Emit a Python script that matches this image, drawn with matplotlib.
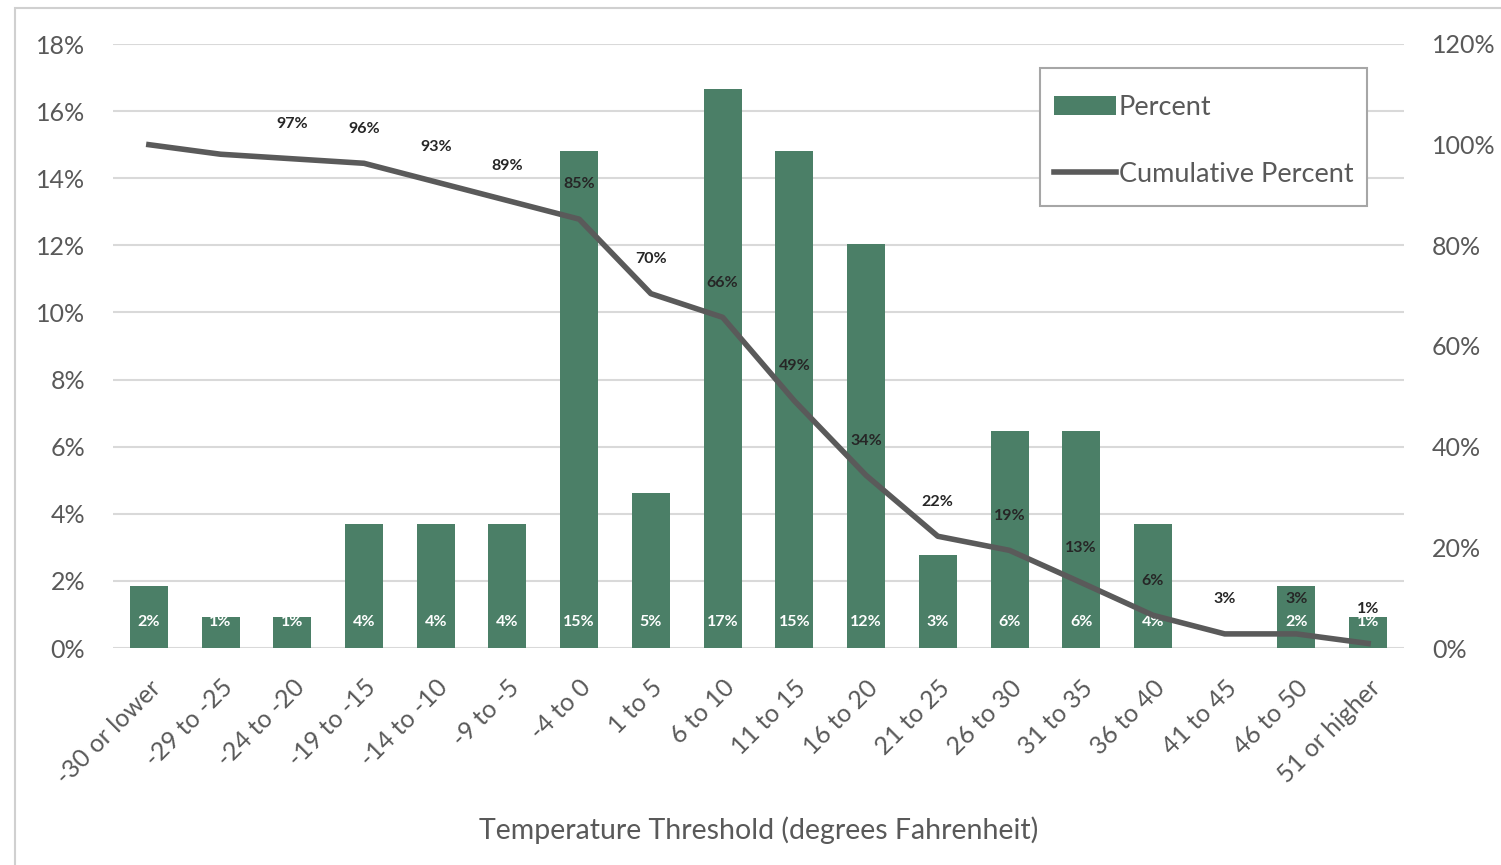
import matplotlib
matplotlib.use("Agg")
import matplotlib.pyplot as plt
from matplotlib.patches import Rectangle
from matplotlib.ticker import FuncFormatter, MultipleLocator

plt.rcParams['font.family'] = ['Lato', 'DejaVu Sans']

categories = ["-30 or lower", "-29 to -25", "-24 to -20", "-19 to -15", "-14 to -10",
              "-9 to -5", "-4 to 0", "1 to 5", "6 to 10", "11 to 15", "16 to 20",
              "21 to 25", "26 to 30", "31 to 35", "36 to 40", "41 to 45", "46 to 50",
              "51 or higher"]
percent = [1.85, 0.93, 0.93, 3.70, 3.70, 3.70, 14.81, 4.63, 16.67, 14.81, 12.04,
           2.78, 6.48, 6.48, 3.70, 0.0, 1.85, 0.93]
percent_labels = ["2%", "1%", "1%", "4%", "4%", "4%", "15%", "5%", "17%", "15%", "12%",
                  "3%", "6%", "6%", "4%", "", "2%", "1%"]
cumulative = [100.0, 98.1, 97.2, 96.3, 92.6, 88.9, 85.2, 70.4, 65.7, 49.1, 34.3,
              22.2, 19.4, 13.0, 6.5, 2.8, 2.8, 0.9]
cumulative_labels = ["", "", "97%", "96%", "93%", "89%", "85%", "70%", "66%", "49%",
                     "34%", "22%", "19%", "13%", "6%", "3%", "3%", "1%"]

BAR = "#4b7f67"
LINE = "#5a5a5a"
GRID = "#d9d9d9"
TXT = "#595959"

W, H = 1501, 865
fig = plt.figure(figsize=(15.01, 8.65), dpi=100)
fig.patches.append(Rectangle((15/W, -0.01), 1.0, 1 - 8/H + 0.01, transform=fig.transFigure,
                             fill=False, edgecolor="#d0d0d0", linewidth=1.5))
ax = fig.add_axes([113/W, 1 - 648/H, (1404 - 113)/W, (648 - 44)/H])
ax2 = ax.twinx()

x = list(range(len(categories)))
ax.bar(x, percent, width=0.53, color=BAR, zorder=2, label="Percent")
ax.set_ylim(0, 18)
ax.set_xlim(-0.5, len(categories) - 0.5)
ax.yaxis.set_major_locator(MultipleLocator(2))
ax.yaxis.set_major_formatter(FuncFormatter(lambda v, p: f"{v:.0f}%"))
ax.grid(axis="y", color=GRID, linewidth=1.5, zorder=0)
ax.set_axisbelow(True)

ax2.plot(x, cumulative, color=LINE, linewidth=4.0, zorder=3, label="Cumulative Percent",
         solid_joinstyle="round")
ax2.set_ylim(0, 120)
ax2.yaxis.set_major_locator(MultipleLocator(20))
ax2.yaxis.set_major_formatter(FuncFormatter(lambda v, p: f"{v:.0f}%"))

for a in (ax, ax2):
    for s in a.spines.values():
        s.set_visible(False)
    a.tick_params(axis="both", length=0, labelsize=18, labelcolor=TXT)
ax.tick_params(axis="y", pad=20)
ax2.tick_params(axis="y", pad=20)

ax.set_xticks(x)
ax.set_xticklabels(categories, rotation=45, ha="right", rotation_mode="anchor",
                   fontsize=18, color=TXT)
ax.tick_params(axis="x", pad=20)
fig.text(759/W, 1 - 830/H, "Temperature Threshold (degrees Fahrenheit)",
         ha="center", va="center", fontsize=20.5, color=TXT)

for xi, lab in zip(x, percent_labels):
    if lab:
        ax.annotate(lab, (xi, 0), xytext=(0, 19), textcoords="offset points",
                    ha="center", va="center", color="white", fontsize=11.5,
                    fontweight="bold", zorder=4)
for xi, yv, lab in zip(x, cumulative, cumulative_labels):
    if lab:
        ax2.annotate(lab, (xi, yv), xytext=(0, 25), textcoords="offset points",
                     ha="center", va="center", color="#262626", fontsize=11.5,
                     fontweight="bold", zorder=5)

# legend box
fig.patches.append(Rectangle((1040/W, 1 - 206/H), (1367 - 1040)/W, (206 - 68)/H,
                             transform=fig.transFigure, facecolor="white",
                             edgecolor="#a6a6a6", linewidth=1.5, zorder=10))
h1, l1 = ax.get_legend_handles_labels()
h2, l2 = ax2.get_legend_handles_labels()
leg = fig.legend(h1 + h2, l1 + l2, loc="upper left",
                 bbox_to_anchor=(1040/W, 1 - 81/H),
                 frameon=False, fontsize=19.5,
                 labelspacing=1.55, handlelength=2.3, handletextpad=0.1,
                 borderpad=0.5, borderaxespad=0)
leg.set_zorder(11)
for t in leg.get_texts():
    t.set_color(TXT)

fig.savefig("out.png", dpi=100)
